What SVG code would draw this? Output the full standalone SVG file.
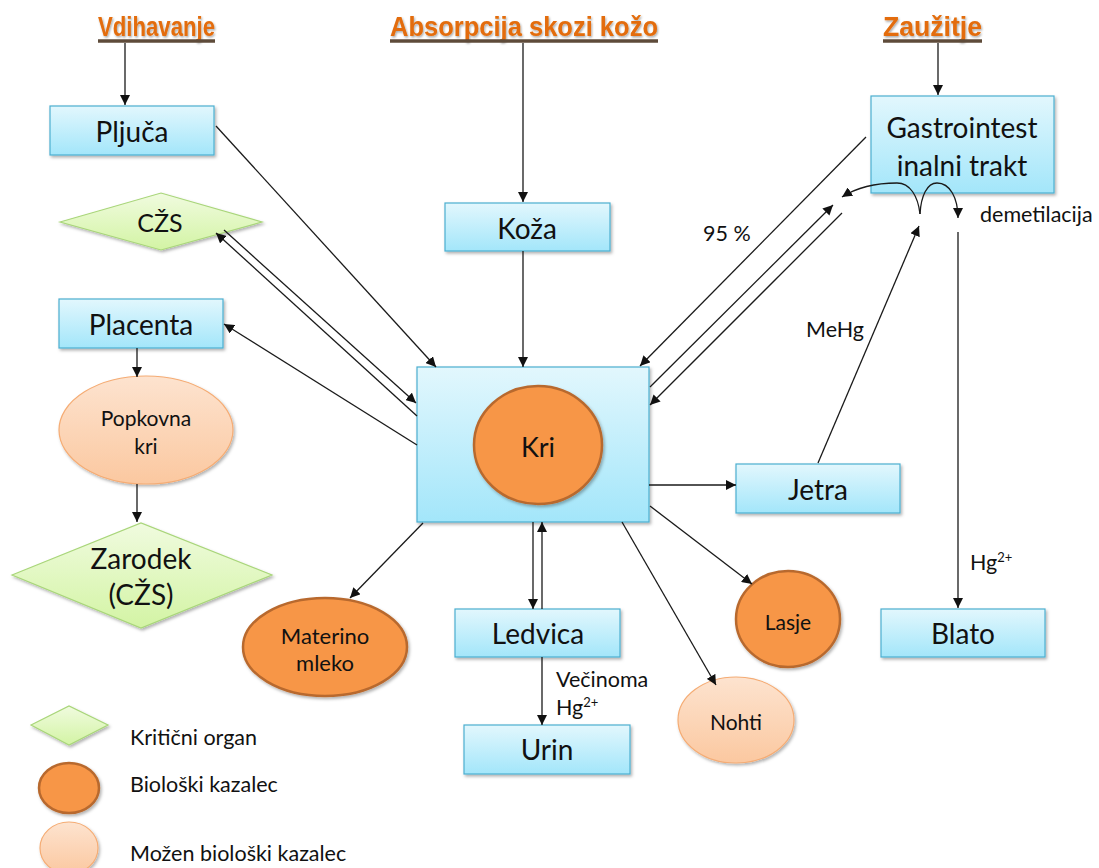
<svg xmlns="http://www.w3.org/2000/svg" width="1099" height="868" viewBox="0 0 1099 868">
<defs>
<linearGradient id="gBlue" x1="0" y1="0" x2="0" y2="1"><stop offset="0" stop-color="#e2f7fd"/><stop offset="1" stop-color="#a3e6fa"/></linearGradient>
<linearGradient id="gGreen" x1="0" y1="0" x2="0" y2="1"><stop offset="0" stop-color="#f0fbdf"/><stop offset="1" stop-color="#d3f4a4"/></linearGradient>
<linearGradient id="gPeach" x1="0" y1="0" x2="0" y2="1"><stop offset="0" stop-color="#fde3cf"/><stop offset="1" stop-color="#fbc8a0"/></linearGradient>
<filter id="sh" x="-10%" y="-10%" width="130%" height="130%"><feDropShadow dx="1.5" dy="2" stdDeviation="1.5" flood-color="#000" flood-opacity="0.3"/></filter>
<filter id="tsh" x="-5%" y="-20%" width="110%" height="150%"><feDropShadow dx="1" dy="1.5" stdDeviation="0.8" flood-color="#000" flood-opacity="0.35"/></filter>
<marker id="ah" viewBox="0 0 10 10" refX="10" refY="5" markerWidth="10" markerHeight="10" markerUnits="userSpaceOnUse" orient="auto"><path d="M0,0 L10,5 L0,10 z" fill="#111"/></marker>
</defs>
<style>
.box{fill:url(#gBlue);stroke:#4bafd0;stroke-width:1.2;filter:url(#sh)}
.dia{fill:url(#gGreen);stroke:#a9d67a;stroke-width:1.2;filter:url(#sh)}
.bio{fill:#f79646;stroke:#b8692e;stroke-width:2.5;filter:url(#sh)}
.pos{fill:url(#gPeach);stroke:#f5ac74;stroke-width:1.2;filter:url(#sh)}
.t{font-family:Lato,"Open Sans","Liberation Sans",sans-serif;fill:#111;text-anchor:middle;dominant-baseline:central}
.lb{font-family:Lato,"Open Sans","Liberation Sans",sans-serif;fill:#111;font-size:21.5px}
.hd{font-family:"Liberation Sans Narrow","Liberation Sans",Arial,sans-serif;font-weight:bold;fill:#e36c09;font-size:28px;filter:url(#tsh)}
.ul{stroke:#5e4b3a;stroke-width:3.5}
.ca{stroke:#1a1a1a;stroke-width:1.3;fill:none;marker-end:url(#ah)}
</style>

<g id="headers">
<text class="hd" x="98" y="36" textLength="117" lengthAdjust="spacingAndGlyphs">Vdihavanje</text>
<line class="ul" x1="98" y1="41" x2="215" y2="41"/>
<text class="hd" x="390" y="36" textLength="268" lengthAdjust="spacingAndGlyphs">Absorpcija skozi kožo</text>
<line class="ul" x1="390" y1="41" x2="658" y2="41"/>
<text class="hd" x="883" y="36" textLength="99" lengthAdjust="spacingAndGlyphs">Zaužitje</text>
<line class="ul" x1="883" y1="41" x2="982" y2="41"/>
</g>

<g id="pljuca"><rect class="box" x="50" y="106" width="164" height="49"/><text class="t" x="132" y="131" font-size="28">Pljuča</text></g>
<g id="czs"><polygon class="dia" points="60,222 161,193 262,222 161,250"/><text class="t" x="160" y="222" font-size="25">CŽS</text></g>
<g id="placenta"><rect class="box" x="59" y="299" width="164" height="49"/><text class="t" x="141" y="324" font-size="28">Placenta</text></g>
<g id="popkovna"><ellipse class="pos" cx="146" cy="430" rx="87" ry="54"/><text class="t" x="146" y="417" font-size="21">Popkovna</text><text class="t" x="146" y="445" font-size="21">kri</text></g>
<g id="zarodek"><polygon class="dia" points="12,575 141,523 272,575 141,628"/><text class="t" x="141" y="558" font-size="28">Zarodek</text><text class="t" x="141" y="594" font-size="28">(CŽS)</text></g>
<g id="koza"><rect class="box" x="445" y="203" width="165" height="48"/><text class="t" x="527" y="228" font-size="28">Koža</text></g>
<g id="kri"><rect class="box" x="417" y="367" width="232" height="155"/><ellipse class="bio" cx="538" cy="445" rx="64" ry="59"/><text class="t" x="538" y="446" font-size="27">Kri</text></g>
<g id="gastro"><rect class="box" x="871" y="96" width="183" height="97"/><text class="t" x="962" y="127" font-size="28">Gastrointest</text><text class="t" x="962" y="165" font-size="28">inalni trakt</text></g>
<g id="jetra"><rect class="box" x="736" y="464" width="164" height="49"/><text class="t" x="818" y="489" font-size="28">Jetra</text></g>
<g id="blato"><rect class="box" x="881" y="609" width="164" height="48"/><text class="t" x="963" y="633" font-size="28">Blato</text></g>
<g id="ledvica"><rect class="box" x="455" y="609" width="165" height="48"/><text class="t" x="538" y="633" font-size="28">Ledvica</text></g>
<g id="urin"><rect class="box" x="464" y="725" width="166" height="49"/><text class="t" x="547" y="749" font-size="28">Urin</text></g>
<g id="materino"><ellipse class="bio" cx="325" cy="647" rx="82" ry="49"/><text class="t" x="325" y="635" font-size="22">Materino</text><text class="t" x="325" y="662" font-size="22">mleko</text></g>
<g id="lasje"><ellipse class="bio" cx="788" cy="619" rx="52" ry="48"/><text class="t" x="788" y="621" font-size="21">Lasje</text></g>
<g id="nohti"><ellipse class="pos" cx="736" cy="720" rx="58" ry="43"/><text class="t" x="736" y="721" font-size="21">Nohti</text></g>

<g id="connectors">
<line class="ca" x1="125" y1="43" x2="125" y2="105"/>
<line class="ca" x1="523" y1="43" x2="523" y2="202"/>
<line class="ca" x1="938" y1="43" x2="938" y2="95"/>
<line class="ca" x1="216" y1="126" x2="436" y2="367"/>
<line class="ca" x1="417" y1="416" x2="216" y2="233"/>
<line class="ca" x1="224" y1="230" x2="416" y2="403"/>
<line class="ca" x1="417" y1="445" x2="224" y2="324"/>
<line class="ca" x1="137" y1="348" x2="137" y2="377"/>
<line class="ca" x1="137" y1="484" x2="137" y2="522"/>
<line class="ca" x1="423" y1="523" x2="350" y2="598"/>
<line class="ca" x1="523" y1="251" x2="523" y2="367"/>
<line class="ca" x1="533" y1="522" x2="533" y2="609"/>
<line class="ca" x1="542" y1="609" x2="542" y2="522"/>
<line class="ca" x1="542" y1="657" x2="542" y2="725"/>
<line class="ca" x1="622" y1="522" x2="716" y2="685"/>
<line class="ca" x1="650" y1="506" x2="752" y2="584"/>
<line class="ca" x1="649" y1="485" x2="736" y2="485"/>
<line class="ca" x1="866" y1="137" x2="640" y2="366"/>
<line class="ca" x1="650" y1="387" x2="833" y2="205"/>
<line class="ca" x1="842" y1="213" x2="650" y2="405"/>
<line class="ca" x1="818" y1="463" x2="919" y2="226"/>
<path class="ca" d="M920,214 C918,196 910,183 897,183 C875,183 856,188 842,197"/>
<path class="ca" d="M920,214 C921,196 927,183 937,183 C950,183 958,198 958,218"/>
<line class="ca" x1="958" y1="232" x2="958" y2="608"/>
</g>

<g id="labels">
<text class="lb" x="703" y="241">95 %</text>
<text class="lb" x="806" y="337">MeHg</text>
<text class="lb" x="980" y="222">demetilacija</text>
<text class="lb" x="970" y="570">Hg<tspan font-size="13" dy="-8">2+</tspan></text>
<text class="lb" x="556" y="687">Večinoma</text>
<text class="lb" x="556" y="715">Hg<tspan font-size="13" dy="-8">2+</tspan></text>
</g>

<g id="legend">
<polygon class="dia" points="31,725 69,706 108,725 69,745"/>
<text class="lb" x="130" y="745">Kritični organ</text>
<ellipse class="bio" cx="69" cy="788" rx="30" ry="25"/>
<text class="lb" x="130" y="792">Biološki kazalec</text>
<ellipse class="pos" cx="69" cy="848" rx="29" ry="26"/>
<text class="lb" x="130" y="861">Možen biološki kazalec</text>
</g>
</svg>
